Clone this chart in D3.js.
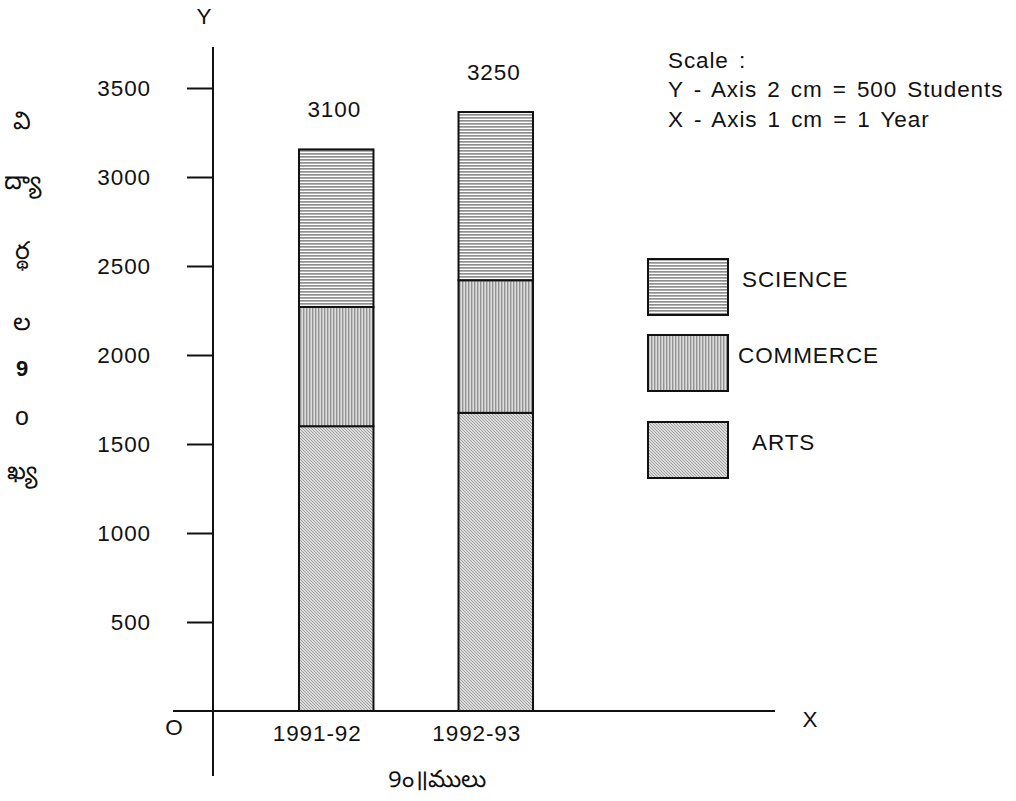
<!DOCTYPE html>
<html>
<head>
<meta charset="utf-8">
<script src="https://cdn.jsdelivr.net/npm/d3@7"></script>
<style>
  html, body { margin: 0; padding: 0; background: #fff; }
  svg { display: block; }
  text { font-family: "Liberation Sans", Arial, sans-serif; fill: #111; }
</style>
</head>
<body>
<svg id="chart" width="1016" height="801"></svg>
<script>
// ---- data ----
const years = ["1991-92", "1992-93"];
const arts = [1600, 1675];
const commerce = [670, 745];
const science = [885, 945];
const totals = ["3100", "3250"];
const seriesNames = ["ARTS", "COMMERCE", "SCIENCE"];
const legendOrder = ["SCIENCE", "COMMERCE", "ARTS"];
const yTicks = [500, 1000, 1500, 2000, 2500, 3000, 3500];
const scaleLines = ["Scale :", "Y - Axis 2 cm = 500 Students", "X - Axis 1 cm = 1 Year"];
const yTitleGlyphs = ["వి", "ద్యా", "ర్థ", "ల", "9", "o", "ఖ్య"];
const xTitle = "9ం॥ములు";

const rows = years.map((y, i) => ({ year: y, ARTS: arts[i], COMMERCE: commerce[i], SCIENCE: science[i] }));

const svg = d3.select("#chart");
const FS = 22.5, LS = "0.9px";

// ---- patterns ----
const defs = svg.append("defs");
const pSci = defs.append("pattern").attr("id", "p-SCIENCE").attr("patternUnits", "userSpaceOnUse")
  .attr("width", 6).attr("height", 3);
pSci.append("rect").attr("width", 6).attr("height", 3).attr("fill", "#fff");
pSci.append("rect").attr("y", 0).attr("width", 6).attr("height", 1.7).attr("fill", "#8f8f8f");

const pCom = defs.append("pattern").attr("id", "p-COMMERCE").attr("patternUnits", "userSpaceOnUse")
  .attr("width", 3).attr("height", 6);
pCom.append("rect").attr("width", 3).attr("height", 6).attr("fill", "#dcdcdc");
pCom.append("rect").attr("x", 0).attr("width", 1.4).attr("height", 6).attr("fill", "#939393");

const pArts = defs.append("pattern").attr("id", "p-ARTS").attr("patternUnits", "userSpaceOnUse")
  .attr("width", 3).attr("height", 3);
pArts.append("rect").attr("width", 3).attr("height", 3).attr("fill", "#dadada");
pArts.append("path").attr("d", "M-1,-1 L4,4 M-1,2 L1,4 M2,-1 L4,1").attr("stroke", "#9e9e9e").attr("stroke-width", 0.9);

// ---- scales ----
const y = d3.scaleLinear().domain([0, 3500]).range([711, 88]);
const x = d3.scaleBand().domain(years).range([213, 619]).paddingInner(0.533).paddingOuter(0.539);

// ---- y ticks ----
const yAxis = d3.axisLeft(y).tickValues(yTicks).tickSize(26).tickFormat("");
const gy = svg.append("g").attr("transform", "translate(213,0)").call(yAxis);
gy.select(".domain").remove();
gy.selectAll(".tick line").attr("stroke", "#111").attr("stroke-width", 2);

svg.append("g").selectAll("text").data(yTicks).join("text")
  .attr("x", 151).attr("y", d => y(d) + 2)
  .attr("text-anchor", "end").attr("dominant-baseline", "middle")
  .attr("font-size", FS).style("letter-spacing", LS)
  .text(d => d);

// ---- axes lines ----
svg.append("line").attr("x1", 213).attr("x2", 213).attr("y1", 47).attr("y2", 776)
  .attr("stroke", "#111").attr("stroke-width", 2);
svg.append("line").attr("x1", 173).attr("x2", 775).attr("y1", y(0)).attr("y2", y(0))
  .attr("stroke", "#111").attr("stroke-width", 2);

// ---- bars ----
const stack = d3.stack().keys(seriesNames)(rows);
svg.append("g").selectAll("g").data(stack).join("g")
  .attr("fill", d => `url(#p-${d.key})`)
  .selectAll("rect").data(d => d).join("rect")
  .attr("x", d => x(d.data.year))
  .attr("width", x.bandwidth())
  .attr("y", d => y(d[1]))
  .attr("height", d => y(d[0]) - y(d[1]))
  .attr("stroke", "#111").attr("stroke-width", 2);

// ---- totals ----
svg.append("g").selectAll("text").data(years).join("text")
  .attr("x", d => x(d) + x.bandwidth() / 2 - 2)
  .attr("y", (d, i) => y(arts[i] + commerce[i] + science[i]) - 38)
  .attr("text-anchor", "middle").attr("dominant-baseline", "middle")
  .attr("font-size", FS).style("letter-spacing", LS)
  .text((d, i) => totals[i]);

// ---- x labels ----
svg.append("g").selectAll("text").data(years).join("text")
  .attr("x", d => x(d) + x.bandwidth() / 2 - 19)
  .attr("y", 735)
  .attr("text-anchor", "middle").attr("dominant-baseline", "middle")
  .attr("font-size", FS).style("letter-spacing", LS)
  .text(d => d);

// ---- axis letters ----
svg.append("text").attr("x", 204).attr("y", 18).attr("text-anchor", "middle").attr("dominant-baseline", "middle")
  .attr("font-size", FS).text("Y");
svg.append("text").attr("x", 810).attr("y", 721).attr("text-anchor", "middle").attr("dominant-baseline", "middle")
  .attr("font-size", FS).text("X");
svg.append("text").attr("x", 174).attr("y", 729).attr("text-anchor", "middle").attr("dominant-baseline", "middle")
  .attr("font-size", FS).text("O");

// ---- scale note ----
svg.append("g").selectAll("text").data(scaleLines).join("text")
  .attr("x", 668).attr("y", (d, i) => 62 + i * 29.5)
  .attr("dominant-baseline", "middle")
  .attr("font-size", FS).style("letter-spacing", LS).style("word-spacing", "3px")
  .text(d => d);

// ---- legend ----
const legY = [259, 335, 422];
const legText = { SCIENCE: 742, COMMERCE: 738, ARTS: 752 };
const leg = svg.append("g").selectAll("g").data(legendOrder).join("g")
  .attr("transform", (d, i) => `translate(648,${legY[i]})`);
leg.append("rect").attr("width", 80).attr("height", 56)
  .attr("fill", d => `url(#p-${d})`).attr("stroke", "#111").attr("stroke-width", 2);
leg.append("text").attr("x", d => legText[d] - 648).attr("y", 22)
  .attr("dominant-baseline", "middle")
  .attr("font-size", FS).style("letter-spacing", LS)
  .text(d => d);

// ---- titles (Telugu) ----
const glyphY = [122, 182, 252, 323, 370, 418, 472];
svg.append("g").selectAll("text").data(yTitleGlyphs).join("text")
  .attr("x", 22).attr("y", (d, i) => glyphY[i])
  .attr("text-anchor", "middle").attr("dominant-baseline", "middle")
  .attr("font-size", d => d === "9" ? 22 : 25)
  .attr("font-weight", d => d === "9" ? "bold" : "normal")
  .text(d => d);

svg.append("text").attr("x", 437).attr("y", 781)
  .attr("text-anchor", "middle").attr("dominant-baseline", "middle")
  .attr("font-size", 24)
  .text(xTitle);
</script>
</body>
</html>
